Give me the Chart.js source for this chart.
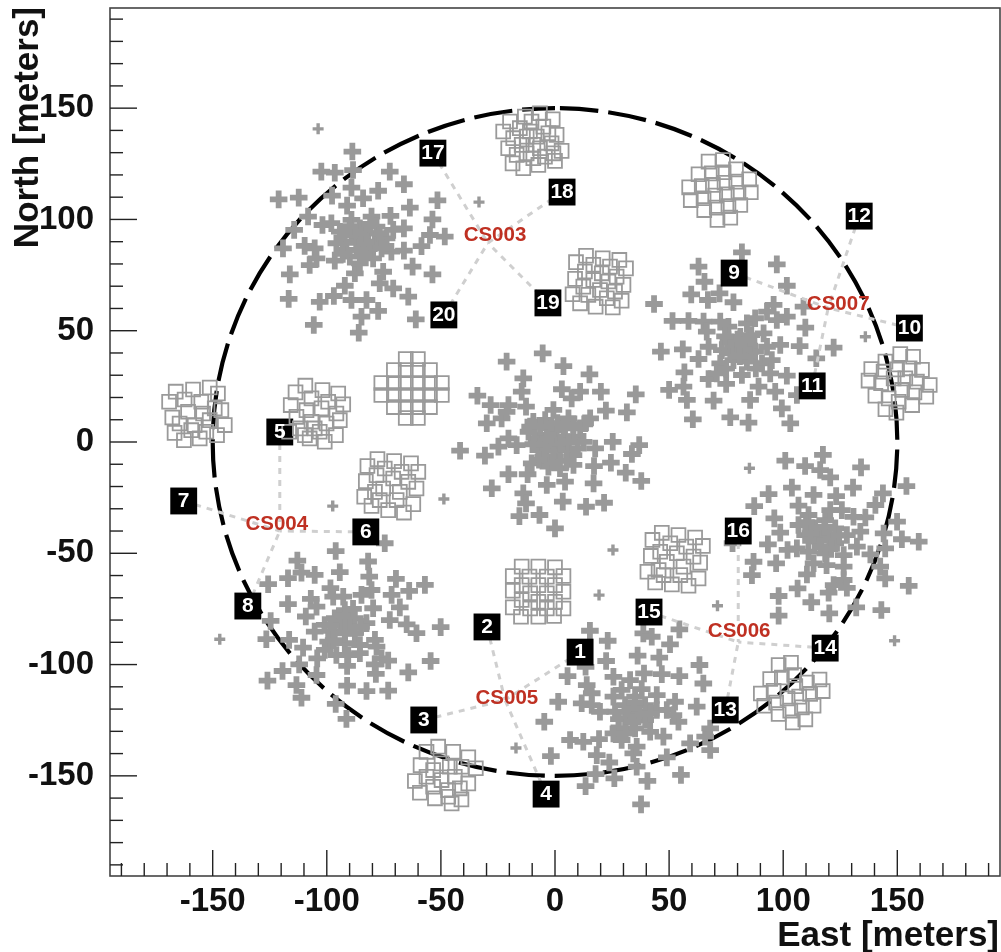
<!DOCTYPE html>
<html>
<head>
<meta charset="utf-8">
<title>Station layout</title>
<script src="https://cdn.jsdelivr.net/npm/chart.js@4/dist/chart.umd.min.js"></script>
<style>
  html, body { margin: 0; padding: 0; background: #fff; }
  canvas { display: block; }
</style>
</head>
<body>
<canvas id="layoutChart" width="1001" height="952"></canvas>
<script>
// Low band antennas, one list per station, [east, north] in meters
const lbaCS002 = [[-21.2,36.1],[-5.4,39.8],[3.7,34.1],[15.1,30.4],[-13.9,28.6],[-34,20.8],[-14.6,22.6],[3,23.7],[11,22.6],[7.3,19.6],[20.1,22.6],[35.4,21.4],[-28.2,16.6],[-20.4,16.6],[-12.7,15.9],[-23.4,10.6],[-21.2,13.6],[22.3,14.1],[31.5,13.3],[-29.9,8.4],[-0.7,14.4],[15.4,10.6],[-9.5,9.1],[-4.3,9.9],[5.9,10.6],[-41.6,-3.9],[-30.7,-6.1],[-24.8,-2.1],[-20.4,1.6],[-16.8,-1.4],[-11.6,4.6],[25.3,0.1],[36.9,-1.4],[33.7,-5.4],[17.6,-2.9],[24.5,-9.3],[31,-13.8],[37.8,-17.5],[17.1,-10.8],[16.9,-18.6],[-20.4,-14.5],[-12,-14.5],[-10.2,-9.6],[-3.6,-19.3],[4.4,-17.8],[-27.7,-20.8],[-13.9,-23.1],[-12.7,-27.6],[3.4,-26.8],[13.6,-29.1],[21.5,-27.3],[-15.6,-33.3],[-6.8,-32.8],[0,-38.8],[0.8,-0.6],[-2.2,2.4],[3.7,2.4],[-3.6,-2.1],[5.9,-2.9],[0.8,5.4],[-6.5,3.1],[8.1,2.4],[-7.3,-3.6],[0,-6.6],[8.1,-5.9],[-5.1,-6.6],[4.4,6.1],[11,6.1],[12.5,0.1],[-10.9,6.9],[-2.9,-11.1],[2.2,-11.8],[8.1,-10.3],[13.2,8.4],[-0.7,-3.6],[2.2,-3.6],[-0.7,0.9],[2.2,-0.6],[-3.6,6.1],[-8,0.1],[-4,0.5],[6,0],[-9.5,-1],[10,-3],[-1,-9],[5,-8.5],[-7,-8],[1,8.5],[-6.5,7],[8,8]];
const lbaCS003 = [[-88.8,130.5],[-102.4,121.5],[-96.5,121],[-88.5,122.2],[-72.4,121.5],[-66.2,115.8],[-89.2,114.3],[-77.5,112.9],[-97.7,110.7],[-84.1,109.5],[-121.1,109],[-112.3,109.8],[-51.5,108.6],[-91.1,106.2],[-63.6,105.3],[-108.2,101.3],[-72.1,101.6],[-80.4,101.3],[-53.7,100],[-101.9,97.5],[-114.3,95.3],[-66.2,96],[-54.8,93],[-48.3,92.3],[-58.5,88],[-119.2,87],[-109.7,88.1],[-105.3,87],[-66.2,86],[-104.5,82.5],[-107.5,79.5],[-96.5,81.5],[-62.4,78.8],[-116.2,75.3],[-53.7,75.3],[-75.3,76.5],[-87.7,75.8],[-92.1,70.2],[-76.8,71.3],[-70.9,69],[-96.9,65.6],[-103.1,63],[-116.7,64.3],[-89.2,63.8],[-82.6,63.8],[-64.3,65.3],[-77.5,58.9],[-84.8,56.3],[-61,55.1],[-105.7,52.6],[-86,49.1],[-85.5,90.8],[-89.2,93],[-81.9,93.8],[-92.1,90],[-79,89.3],[-87,86.3],[-82.6,85.5],[-94.3,94.5],[-78.2,96.8],[-95.8,89.3],[-73.8,91.5],[-89.9,83.3],[-79.7,82.5],[-89.2,99.8],[-71.7,85.5],[-85.5,80.3],[-98,98.3],[-70.9,95.3],[-85.5,96],[-84,87.8],[-91.4,86.3],[-76.8,93.8],[-87,89.5],[-83,90],[-85,93.5],[-84,84],[-90,97],[-81,98],[-76,87],[-93,84.5]];
const lbaCS004 = [[-96.1,-49],[-112.9,-53.3],[-81.9,-53.7],[-74.6,-45.5],[-111.1,-58.7],[-105.3,-59.7],[-117,-61.2],[-94.3,-58.5],[-81.4,-60.5],[-69.7,-61.5],[-125.7,-63.9],[-57,-64.2],[-63.9,-66.9],[-98.4,-65.7],[-80.4,-66.5],[-84.8,-68.7],[-71.6,-68.7],[-107,-70.5],[-117,-72.8],[-68,-74.3],[-124.6,-80.4],[-109.2,-78.4],[-72.4,-80],[-65,-81.9],[-60.7,-85.9],[-50.1,-83.2],[-126.5,-88.6],[-116.5,-88.9],[-110.4,-92.4],[-104.2,-97.2],[-112.1,-99.9],[-119.4,-102.9],[-126,-107.2],[-104.5,-104.7],[-91.1,-100.6],[-76,-97.2],[-73.1,-98.2],[-79,-99.9],[-78.5,-104.2],[-54.5,-98.4],[-64.3,-103.5],[-91.1,-109.5],[-113.3,-109.2],[-111.1,-114.9],[-82.6,-111.9],[-73.1,-111.7],[-96.1,-117.7],[-91.4,-124.4],[-92.1,-82.2],[-96.5,-79.2],[-87.7,-79.2],[-96.5,-85.2],[-87.7,-85.9],[-92.1,-75.5],[-100.9,-82.2],[-82.6,-81.4],[-92.1,-90.4],[-99.4,-89.7],[-85.5,-91.2],[-95.8,-95.7],[-85.5,-94.9],[-105.3,-85.2],[-104.5,-74],[-97.2,-69.5],[-92.8,-69.5],[-79.7,-74.7],[-78.9,-88.9],[-78.2,-91.9],[-100.9,-93.4],[-90.6,-95.7],[-94,-81],[-90,-83.5],[-92,-86],[-98.5,-82.5],[-85,-83],[-92,-78],[-88.5,-75],[-97,-89]];
const lbaCS005 = [[15.3,-84.8],[23.1,-89.3],[38.7,-86],[42.4,-87.5],[54.5,-84.2],[50.4,-90.9],[36.2,-96],[45.7,-96.9],[22.4,-98.4],[13.4,-101],[5.5,-105.2],[63.3,-100.2],[39,-104],[46.8,-104.3],[54.5,-105.2],[25.6,-105.5],[65,-108.5],[13.9,-109.2],[16.1,-112.9],[1.4,-116.7],[11.7,-117.4],[16.1,-118.2],[52.6,-116.7],[62.1,-118.9],[54.1,-125.7],[-4.7,-125.7],[6.6,-133.9],[12.4,-134.7],[19.3,-133.5],[18.3,-140.7],[23.8,-144],[-1.8,-141.1],[34.3,-139.9],[49,-141.7],[35.8,-145.9],[59.2,-135.4],[65.8,-132.4],[68,-128.7],[68,-138.4],[47.5,-132.4],[17.8,-149.2],[26,-151.1],[55.2,-149.6],[40.5,-152.3],[13.4,-154.6],[37.7,-162.8],[35.1,-121.2],[30.7,-118.2],[39.5,-118.2],[30.7,-124.2],[39.5,-124.9],[35.1,-114.4],[26.3,-121.2],[44.6,-120.4],[35.1,-128.7],[27.8,-128.7],[41.7,-130.2],[29.2,-111.4],[32.9,-107],[44.6,-113.7],[25.6,-114.4],[49,-120.4],[25.6,-130.9],[29.2,-133.9],[35.8,-136.9],[19.7,-121.2],[51.9,-122.7],[33,-120],[37,-122.5],[35,-117],[28,-124.5],[42,-122],[34,-126],[38,-111],[31,-131]];
const lbaCS006 = [[117.4,-5.8],[100.9,-8.4],[109.6,-10.8],[116.2,-12.6],[120.6,-15.9],[134.1,-11.4],[103.8,-20.5],[93.6,-23.4],[113.3,-23.8],[123.2,-24.3],[130.6,-20.5],[143.7,-23.1],[154,-19.8],[87.3,-28.8],[106.7,-28.6],[140.4,-28.3],[96.1,-34.3],[136,-33.9],[149.9,-35.8],[98.7,-40.7],[144,-41.1],[152,-43.7],[159.4,-44.8],[77.8,-45.5],[93.3,-46],[101.9,-48.5],[144.7,-47.8],[138.2,-50.5],[87,-53.8],[96.9,-54.5],[142.5,-56],[86.3,-59.8],[110.4,-59.5],[144.7,-61.3],[126.5,-62],[122.1,-64.3],[127.9,-65.5],[155,-64.6],[119.9,-67.7],[106.3,-65.8],[98,-69.2],[112.3,-72],[132,-74.3],[143,-75.5],[120.2,-77],[98,-78],[118.4,-41.8],[114,-38.8],[122.8,-38.8],[114,-44.8],[122.8,-45.5],[118.4,-35.1],[109.6,-41.8],[127.9,-41.8],[118.4,-50],[111.1,-49.3],[126.5,-50.8],[113.3,-54.5],[119,-55.3],[126.5,-56],[106.7,-37.3],[111.1,-32.8],[125.7,-30.6],[130.8,-33.6],[106,-47.8],[132.3,-47],[133.8,-40.3],[120.6,-30.6],[116,-41],[120.5,-43],[118,-38],[112,-41],[124.5,-42],[116.5,-47],[121,-48],[110,-36]];
const lbaCS007 = [[81.9,85.2],[62.9,78.8],[97.2,79.8],[65.5,72],[101.6,70.2],[43.4,62],[59.7,66.3],[67,63.8],[72.1,66.8],[78.2,62.8],[95.8,61.6],[108.9,60.8],[51.5,54.4],[58.5,54.4],[65.1,54.1],[101.6,56.3],[97.2,54.8],[109.7,51.4],[66.5,49.6],[122.1,42.4],[107.2,43.1],[98.7,43.6],[46.4,40.6],[56,41.6],[62.9,37.3],[114.5,37.6],[56.7,31.3],[67.3,28.3],[75,26.1],[101.6,29.8],[94.3,30.8],[56.3,24.9],[50,23.4],[89.2,24.9],[96.5,22.6],[57.8,18.9],[69.5,18.6],[85.5,18.9],[106,21.1],[99.4,15.1],[76.8,11.1],[60.4,10.2],[84.8,8.7],[103.1,8.4],[80.4,42.8],[76,45.8],[84.8,45.8],[73.1,41.3],[87.7,40.6],[78.2,36.8],[84.1,36.1],[76,51.8],[84.1,53.3],[72.4,54.1],[87.7,55.6],[91.4,48.8],[92.9,42.8],[90.7,35.3],[72.4,35.3],[81.9,30.1],[70.9,30.8],[67.3,42.8],[81.2,47.3],[76.8,39.8],[85.5,40.6],[92.9,58.6],[95,36.8],[78,43.5],[82.5,41.5],[80,46],[74.5,47.5],[86,48],[81,38.5],[75,33],[88,33]];
const lbaOutliers = [[-103.8,140.7],[-33.3,107.8],[136,47.3],[85.2,-11.8],[148.8,-89.3],[71.2,-73.6],[-146.9,-88.6],[-97.4,-28.8],[-48.7,-25.6],[25.4,-48.5],[19.3,-68.8],[-17.1,-137.5]];

// High band tiles, one list per field, [east, north] in meters
const hbaFields = {
  top: [[-13.2,146.2],[-6.6,147.7],[-1,145],[-19.7,144],[-15.4,141],[-22.7,139.5],[-11,139.5],[-5.1,141.7],[0.7,138],[-18.3,136.5],[-9.5,133.5],[-1.5,134.2],[-20.5,132],[-14.6,133.5],[-6.6,132],[2.9,130.8],[-12.4,129.7],[-4.4,128.2],[-18.6,125.2],[-13.9,123],[-7.3,124.5],[0,126.3],[-10.3,144],[-2.9,138.7],[-8,137.2],[-12.4,137.2],[-16.8,129],[-9.5,127.5],[-0.7,129.7]],
  nearNorth: [[13.6,83.7],[20.9,82.5],[28.2,81.8],[9.2,80.8],[31.1,78],[16.8,79.6],[24.1,78.8],[8.8,73.3],[13.1,76.6],[20.5,75.8],[27,74.3],[30,70.6],[16.8,72.8],[23.4,72.1],[12.4,69.8],[19.7,68.3],[26.3,67.6],[7.7,66.4],[29.2,63.5],[11,62.3],[17.8,60.8],[25.3,60.5],[14.6,66.1],[22.7,64.6]],
  northEast: [[67.3,126],[73.6,126.7],[62.9,120.3],[68.7,120.7],[73.9,121.2],[79.3,122.5],[85.1,118],[58.8,114.4],[64.3,115],[69.2,115.5],[74.3,116.5],[79.4,117],[85.8,112.2],[59.5,108.7],[65.1,109.5],[70.2,110.7],[75.3,111.3],[80.4,112],[65.4,104.2],[70.9,105.3],[76,106],[81.2,106.5],[71.2,99.8],[76.8,100.8]],
  east: [[151.3,39.5],[156.9,38.3],[144.8,36.1],[160.8,32.4],[138.6,32.8],[144,31.6],[149.9,32.6],[155.4,33.1],[137.4,27.6],[142.9,26.4],[148.4,28.6],[153.5,28.6],[158.6,27.1],[164.2,25.6],[140.4,20.8],[146.2,19.6],[152.1,23.4],[157.5,22.3],[162.7,20.4],[144.8,14.7],[150.6,18.1],[156.5,16.6],[149.6,13.2]],
  grid: [[-65.4,37.3],[-60.1,37.3],[-70.6,32.3],[-65.4,32.3],[-60.1,32.3],[-54.8,32.3],[-76.1,26.5],[-70.6,26.5],[-65.4,26.5],[-60.1,26.5],[-54.8,26.5],[-49.6,26.5],[-76.1,21.1],[-70.6,21.1],[-65.4,21.1],[-60.1,21.1],[-54.8,21.1],[-49.6,21.1],[-70.6,15.7],[-65.4,15.7],[-60.1,15.7],[-54.8,15.7],[-65.4,10.8],[-60.1,10.8]],
  farWest: [[-166.2,22.6],[-158.6,23.6],[-151.3,24.5],[-147.7,21.8],[-169.1,18.1],[-162.3,19.1],[-155,18.1],[-146.2,14.3],[-167.7,11],[-160.8,13.6],[-154.2,12.8],[-149.1,15.1],[-144.7,7.6],[-164.5,8.3],[-157.9,7.6],[-151.3,9.8],[-166.7,4.1],[-148.1,3.1],[-162.6,0.8],[-155.7,1.6],[-159.4,5.3],[-152.8,4.6]],
  west: [[-109.4,25.3],[-101.9,23.3],[-95,21.8],[-113.7,22.3],[-92.8,16.9],[-106.7,19.6],[-99.4,18.1],[-115.8,16.6],[-108.9,14.3],[-102.3,15.1],[-95.8,12.8],[-94.3,9.8],[-113.3,11.3],[-106.7,9.1],[-100.1,8.3],[-116.5,4.6],[-96,3.1],[-109.6,3.1],[-103.1,4.6],[-107.5,1.6],[-100.9,0.1],[-111.8,6.1],[-105.3,6.1]],
  southWest: [[-77.8,-7.7],[-70.5,-8.6],[-63.1,-9.6],[-82.2,-10.8],[-59.9,-13.4],[-74.6,-11.9],[-67.2,-13.4],[-82.9,-17.6],[-78.2,-14.9],[-70.9,-16.4],[-64.3,-17.9],[-60.7,-20.9],[-75.3,-20.9],[-68,-22.4],[-78.9,-22.4],[-83.6,-24.6],[-62.1,-27.9],[-80.4,-28.7],[-73.1,-30.6],[-66.2,-31.7],[-76.8,-26.1],[-69.4,-26.1]],
  south: [[-14.6,-56],[-7.3,-56],[0,-56.3],[-18.5,-60.2],[3.7,-60.2],[-11.2,-60.5],[-3.6,-60.5],[-18.5,-66.8],[-14.6,-64.3],[-7.3,-64.3],[0,-64.3],[3.7,-67.3],[-10.9,-68],[-3.6,-68],[-18.5,-74.3],[3.7,-74.8],[-14.6,-71],[-7.3,-71.8],[0,-71.8],[-14.9,-78.5],[-7.3,-78.5],[-0.4,-78.2],[-10.9,-74.8],[-3.6,-74.8]],
  southEast: [[46.8,-40.8],[54.1,-41.8],[61.4,-42.9],[42.7,-44],[64.8,-46.7],[50.5,-45.5],[57.5,-47],[42,-51.2],[46.1,-49.3],[53.4,-50],[60.7,-51.5],[63.6,-54.2],[49,-53.8],[56.3,-56],[45.4,-57.5],[40.5,-58.3],[62.9,-61.3],[43.9,-63.1],[51.2,-64],[58.5,-64.6],[47.6,-59.8],[54.9,-59.8]],
  edgeEast: [[98,-100.2],[103.4,-99.2],[94.3,-106.5],[99.4,-105.8],[104.8,-104.7],[110.4,-108.1],[115.9,-106.7],[90.2,-113],[95.8,-111.8],[105.3,-109.7],[111.8,-113.2],[117.3,-111.9],[91.7,-118.5],[96.9,-117.1],[101.9,-115.2],[107,-114.4],[113.3,-118.5],[98,-122.2],[103.1,-120.7],[108.2,-119.2],[104.2,-126],[109.7,-124.6]],
  edgeSouth: [[-51.2,-136.9],[-44.6,-139.2],[-56.3,-139.2],[-38,-141.7],[-34.7,-146.6],[-49.7,-144.4],[-58.9,-145.2],[-46.1,-145.9],[-53.4,-147.4],[-41,-145.9],[-61.4,-152.3],[-56.3,-150.4],[-49.7,-151.9],[-43.9,-150.4],[-38,-153.4],[-59.2,-157.6],[-53.4,-154.9],[-46.8,-156.4],[-41.7,-155.6],[-52.6,-160.1],[-46.8,-159.4],[-41,-160.6],[-45.3,-162.4]]
};

// Numbered boxes and the station each one hangs off
const boxNumbers = ['1','2','3','4','5','6','7','8','9','10','11','12','13','14','15','16','17','18','19','20'];
const boxEast = [11,-29.8,-57.5,-3.9,-120.6,-82.9,-162.7,-134.6,78.5,155.3,112.7,133.3,74.6,118.4,41.2,80.3,-53.5,3.1,-3.1,-48.7];
const boxNorth = [-94.4,-83.1,-124.9,-158.2,4.5,-40.4,-26.5,-73.7,75.9,51.2,25.2,101.5,-120.4,-92.6,-76.4,-40,129.8,112.3,62.5,57.1];
const boxStation = [2,2,2,2,1,1,1,1,4,4,4,4,3,3,3,3,0,0,0,0];

const stationNames = ['CS003','CS004','CS005','CS006','CS007'];
const junctionEast = [-29.4,-120.6,-21.9,80.3,119.7];
const junctionNorth = [89.4,-40,-115.9,-89.9,60.2];
const nameEast = [-26.3,-121.9,-21.1,80.7,124.1];
const nameNorth = [93,-36.8,-115,-84.9,62];

const tickValues = [-190,-180,-170,-160,-150,-140,-130,-120,-110,-100,-90,-80,-70,-60,-50,-40,-30,-20,-10,0,10,20,30,40,50,60,70,80,90,100,110,120,130,140,150,160,170,180,190];

const ringRadius = 150;
const axisLimit = 195;

const FONT = '"Liberation Sans", Arial, sans-serif';
const toPoints = (pairs) => pairs.map(p => ({ x: p[0], y: p[1] }));

const crossDataset = (pairs, radius, width) => ({
  data: toPoints(pairs),
  pointStyle: 'cross',
  pointRadius: radius,
  borderColor: '#999999',
  borderWidth: width,
  showLine: false,
  order: 5
});

const datasets = [];
[lbaCS002, lbaCS003, lbaCS004, lbaCS005, lbaCS006, lbaCS007].forEach(list => {
  datasets.push(crossDataset(list, 8.8, 5.8));
});
datasets.push(crossDataset(lbaOutliers, 5.5, 3.4));

// dashed links from each box to its station
boxNumbers.forEach((n, i) => {
  const s = boxStation[i];
  datasets.push({
    data: [{ x: boxEast[i], y: boxNorth[i] }, { x: junctionEast[s], y: junctionNorth[s] }],
    showLine: true,
    pointRadius: 0,
    borderColor: '#cfcfcf',
    borderWidth: 3,
    borderDash: [6, 6],
    order: 4
  });
});

datasets.push({
  data: boxNumbers.map((n, i) => ({ x: boxEast[i], y: boxNorth[i] })),
  pointStyle: 'rect',
  pointRadius: 19,
  backgroundColor: '#000',
  borderColor: '#000',
  borderWidth: 0,
  showLine: false,
  order: 3
});

Object.keys(hbaFields).forEach(k => {
  datasets.push({
    data: toPoints(hbaFields[k]),
    pointStyle: 'rect',
    pointRadius: 9.8,
    backgroundColor: 'transparent',
    borderColor: '#9a9a9a',
    borderWidth: 1.8,
    showLine: false,
    order: 2
  });
});

// dashed ring, goes under the markers
const ringPlugin = {
  id: 'ring',
  beforeDatasetsDraw(chart) {
    const { ctx, scales: { x, y } } = chart;
    const cx = x.getPixelForValue(0);
    const cy = y.getPixelForValue(0);
    const rx = x.getPixelForValue(ringRadius) - cx;
    const ry = cy - y.getPixelForValue(ringRadius);
    ctx.save();
    ctx.strokeStyle = '#000';
    ctx.lineWidth = 4.2;
    ctx.setLineDash([38.5, 10]);
    ctx.lineDashOffset = -5;
    ctx.beginPath();
    ctx.ellipse(cx, cy, rx, ry, 0, -Math.PI / 2, 1.5 * Math.PI);
    ctx.stroke();
    ctx.restore();
  }
};

// frame and inward ticks, like the ROOT axes
const framePlugin = {
  id: 'frame',
  afterDraw(chart) {
    const { ctx, chartArea: a, scales: { x, y } } = chart;
    ctx.save();
    ctx.strokeStyle = '#444';
    ctx.lineWidth = 1.6;
    ctx.strokeRect(a.left, a.top, a.right - a.left, a.bottom - a.top);
    ctx.strokeStyle = '#222';
    ctx.lineWidth = 1.4;
    x.ticks.forEach(t => {
      const px = x.getPixelForValue(t.value);
      const len = t.value % 50 === 0 ? 26 : 13;
      ctx.beginPath();
      ctx.moveTo(px, a.bottom);
      ctx.lineTo(px, a.bottom - len);
      ctx.stroke();
    });
    y.ticks.forEach(t => {
      const py = y.getPixelForValue(t.value);
      const len = t.value % 50 === 0 ? 27 : 13;
      ctx.beginPath();
      ctx.moveTo(a.left, py);
      ctx.lineTo(a.left + len, py);
      ctx.stroke();
    });

    ctx.textAlign = 'center';
    ctx.textBaseline = 'middle';
    ctx.fillStyle = '#fff';
    ctx.font = 'bold 21px ' + FONT;
    boxNumbers.forEach((n, i) => {
      ctx.fillText(n, x.getPixelForValue(boxEast[i]), y.getPixelForValue(boxNorth[i]));
    });
    ctx.fillStyle = '#bf3022';
    ctx.font = 'bold 20.5px ' + FONT;
    stationNames.forEach((n, i) => {
      ctx.fillText(n, x.getPixelForValue(nameEast[i]), y.getPixelForValue(nameNorth[i]));
    });

    ctx.fillStyle = '#111';
    ctx.font = 'bold 35px ' + FONT;
    ctx.textAlign = 'right';
    ctx.fillText('East [meters]', 999, 936);
    ctx.translate(28, 7);
    ctx.rotate(-Math.PI / 2);
    ctx.fillText('North [meters]', 0, 0);
    ctx.restore();
  }
};

const axisTicks = {
  autoSkip: false,
  maxRotation: 0,
  minRotation: 0,
  color: '#111',
  font: { family: FONT, size: 33, weight: 'bold' },
  callback: (v) => (v % 50 === 0 ? String(v) : '')
};

const useTickValues = (s) => { s.ticks = tickValues.map(v => ({ value: v })); };
const noOverhang = (s) => {
  s.paddingLeft = 0;
  s.paddingRight = 0;
  s.paddingTop = 0;
  s.paddingBottom = 0;
};

new Chart(document.getElementById('layoutChart').getContext('2d'), {
  type: 'scatter',
  data: { datasets: datasets },
  plugins: [ringPlugin, framePlugin],
  options: {
    responsive: false,
    animation: false,
    layout: { autoPadding: false, padding: { top: 8, right: 1, bottom: 0, left: 0 } },
    plugins: { legend: { display: false }, tooltip: { enabled: false } },
    scales: {
      x: {
        type: 'linear',
        bounds: 'data',
        min: -axisLimit,
        max: axisLimit,
        grid: { display: false },
        border: { display: false },
        ticks: Object.assign({}, axisTicks, { padding: -2 }),
        afterBuildTicks: useTickValues,
        afterFit: (s) => { s.height = 76; noOverhang(s); }
      },
      y: {
        type: 'linear',
        bounds: 'data',
        min: -axisLimit,
        max: axisLimit,
        grid: { display: false },
        border: { display: false },
        ticks: Object.assign({}, axisTicks, { padding: 8 }),
        afterBuildTicks: useTickValues,
        afterFit: (s) => { s.width = 110; noOverhang(s); }
      }
    }
  }
});
</script>
</body>
</html>
